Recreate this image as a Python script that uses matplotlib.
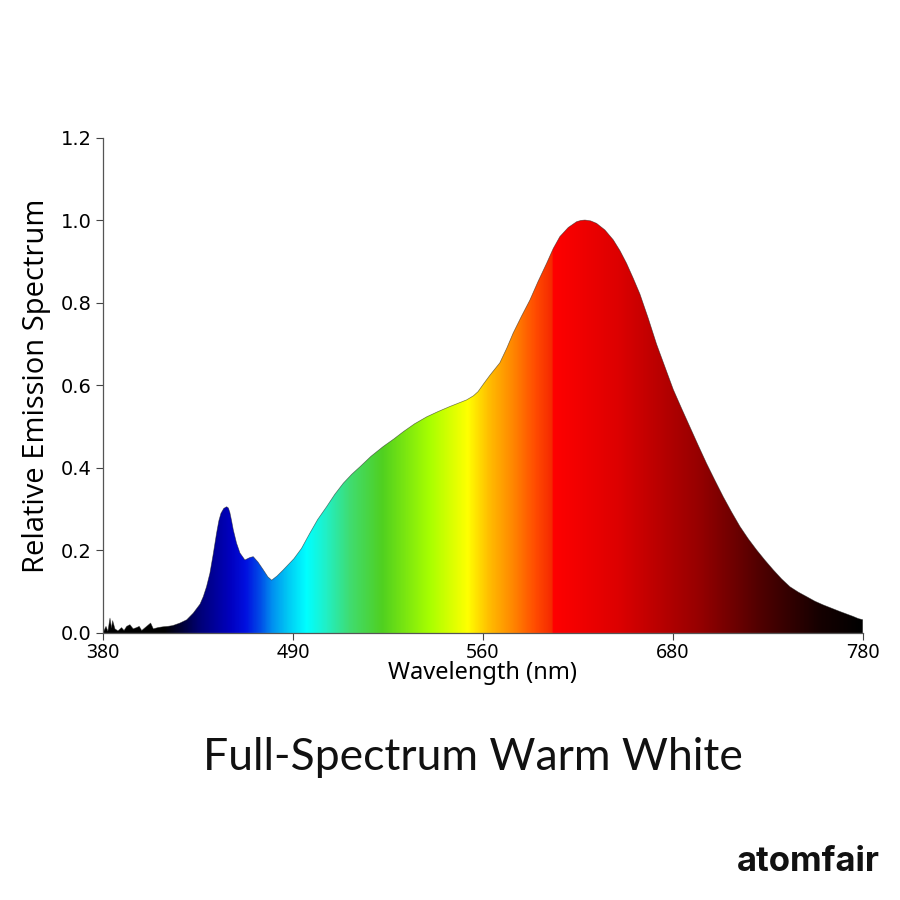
import numpy as np
import matplotlib
matplotlib.use("Agg")
import matplotlib.pyplot as plt
from matplotlib.colors import LinearSegmentedColormap

# ---------------- data ----------------
wavelength = [380.0, 381.6, 382.6, 383.7, 384.5, 385.1, 386.3, 387.9, 389.8, 391.1,
              392.5, 394.2, 395.9, 397.7, 399.1, 400.4, 403.0, 405.1, 406.5, 408.9,
              411.6, 414.2, 416.8, 420.5, 424.1, 427.5, 431.1, 432.8, 434.5, 436.3,
              438.0, 439.8, 441.0, 442.1, 443.6, 445.1, 446.0, 446.8, 447.7, 448.6,
              450.3, 452.1, 454.7, 457.4, 459.1, 461.6, 464.4, 466.8, 468.8, 471.6,
              474.9, 480.5, 484.5, 488.9, 493.0, 497.7, 502.0, 506.5, 511.0, 515.3,
              521.0, 527.5, 533.0, 538.1, 544.0, 550.4, 556.5, 562.6, 567.0, 571.4,
              575.0, 577.4, 580.5, 583.7, 586.3, 588.9, 592.5, 595.9, 600.3, 604.7,
              609.0, 613.5, 617.0, 620.5, 624.9, 629.3, 631.5, 633.7, 636.7, 639.8,
              644.2, 648.6, 652.1, 655.6, 659.1, 662.6, 667.0, 671.4, 675.8, 680.2,
              684.5, 688.9, 693.3, 697.7, 702.1, 706.5, 710.9, 715.3, 719.7, 724.1,
              728.5, 732.8, 737.2, 741.6, 746.0, 750.4, 754.7, 759.1, 763.5, 767.9,
              771.4, 774.9, 777.5, 779.9]
emission = [0.000, 0.016, 0.004, 0.036, 0.012, 0.030, 0.010, 0.005, 0.013, 0.006,
            0.016, 0.020, 0.010, 0.013, 0.016, 0.006, 0.016, 0.024, 0.010, 0.013,
            0.015, 0.016, 0.018, 0.024, 0.032, 0.048, 0.070, 0.088, 0.112, 0.145,
            0.190, 0.242, 0.272, 0.290, 0.302, 0.306, 0.303, 0.292, 0.272, 0.250,
            0.218, 0.194, 0.177, 0.183, 0.185, 0.172, 0.153, 0.136, 0.128, 0.138,
            0.153, 0.180, 0.205, 0.242, 0.275, 0.306, 0.336, 0.363, 0.385, 0.403,
            0.428, 0.452, 0.470, 0.488, 0.507, 0.524, 0.537, 0.549, 0.557, 0.565,
            0.575, 0.585, 0.605, 0.625, 0.640, 0.655, 0.690, 0.727, 0.768, 0.807,
            0.852, 0.896, 0.932, 0.961, 0.983, 0.997, 1.000, 1.001, 0.999, 0.993,
            0.977, 0.953, 0.927, 0.896, 0.860, 0.822, 0.763, 0.700, 0.645, 0.590,
            0.545, 0.500, 0.455, 0.411, 0.370, 0.330, 0.293, 0.258, 0.228, 0.201,
            0.176, 0.153, 0.131, 0.112, 0.099, 0.088, 0.077, 0.068, 0.060, 0.052,
            0.046, 0.040, 0.035, 0.032]

x_tick_labels = ["380", "490", "560", "680", "780"]
y_ticks = [0.0, 0.2, 0.4, 0.6, 0.8, 1.0, 1.2]

# colour stops of the spectrum fill (position, colour)
color_stop_pos = [380, 412, 420, 431, 447, 455, 463, 469, 477, 487, 497, 510,
                  527, 552, 572, 583, 595, 608, 616.5, 617.0, 652, 694, 726, 757, 780]
color_stop_rgb = ["#000000", "#000000", "#00002e", "#000078", "#0000c0", "#0010e0",
                  "#0050e8", "#0090f0", "#00c8f4", "#00ffff", "#20f0c8", "#40dc70",
                  "#50d020", "#a8ff00", "#ffff00", "#ffbe00", "#ff8a00", "#ff4a00",
                  "#f52800", "#ff0000", "#dc0000", "#960000", "#500000", "#160000",
                  "#000000"]

title_text = "Full-Spectrum Warm White"
brand_text = "atomfair"

# ---------------- figure ----------------
fig = plt.figure(figsize=(9, 9), dpi=100)
ax = fig.add_axes([0.1144, 0.2967, 0.8444, 0.55])

x = np.asarray(wavelength)
y = np.asarray(emission)
xmin, xmax = x.min(), 780.0

stops = [((p - xmin) / (xmax - xmin), c) for p, c in zip(color_stop_pos, color_stop_rgb)]
cmap = LinearSegmentedColormap.from_list("spec", stops, N=1024)

poly = ax.fill_between(x, 0, y, facecolor="none", edgecolor="none")
grad = np.linspace(0, 1, 1200).reshape(1, -1)
img = ax.imshow(grad, cmap=cmap, aspect="auto", extent=[xmin, xmax, 0, 1.05],
                origin="lower", interpolation="bilinear", zorder=1)
clip = poly.get_paths()[0]
img.set_clip_path(clip, transform=ax.transData)
ax.plot(x, y, color="#202020", lw=0.5, alpha=0.6, zorder=2)

ax.set_xlim(xmin, xmax)
ax.set_ylim(0, 1.2)
ax.set_xticks(np.linspace(xmin, xmax, len(x_tick_labels)))
ax.set_xticklabels(x_tick_labels, fontfamily="Noto Sans", fontsize=14)
ax.set_yticks(y_ticks)
ax.set_yticklabels([f"{v:.1f}" for v in y_ticks], fontfamily="DejaVu Sans", fontsize=14)
ax.tick_params(axis="both", direction="out", length=5, width=0.8, color="#444444", pad=3)
ax.tick_params(axis="x", pad=2)

for s in ["top", "right"]:
    ax.spines[s].set_visible(False)
for s in ["left", "bottom"]:
    ax.spines[s].set_color("#555555")
    ax.spines[s].set_linewidth(0.9)

ax.set_xlabel("Wavelength (nm)", fontfamily="Noto Sans", fontsize=17, labelpad=-1)
ax.set_ylabel("Relative Emission Spectrum", fontfamily="Open Sans", fontsize=21, labelpad=7)

fig.text(0.525, 0.158, title_text, ha="center", va="center",
         fontfamily="Lato", fontsize=32, color="#111111")
fig.text(0.978, 0.042, brand_text, ha="right", va="center",
         fontfamily="Inter", fontweight="bold", fontsize=25, color="#111111")

fig.savefig("out.png", dpi=100, facecolor="white")
